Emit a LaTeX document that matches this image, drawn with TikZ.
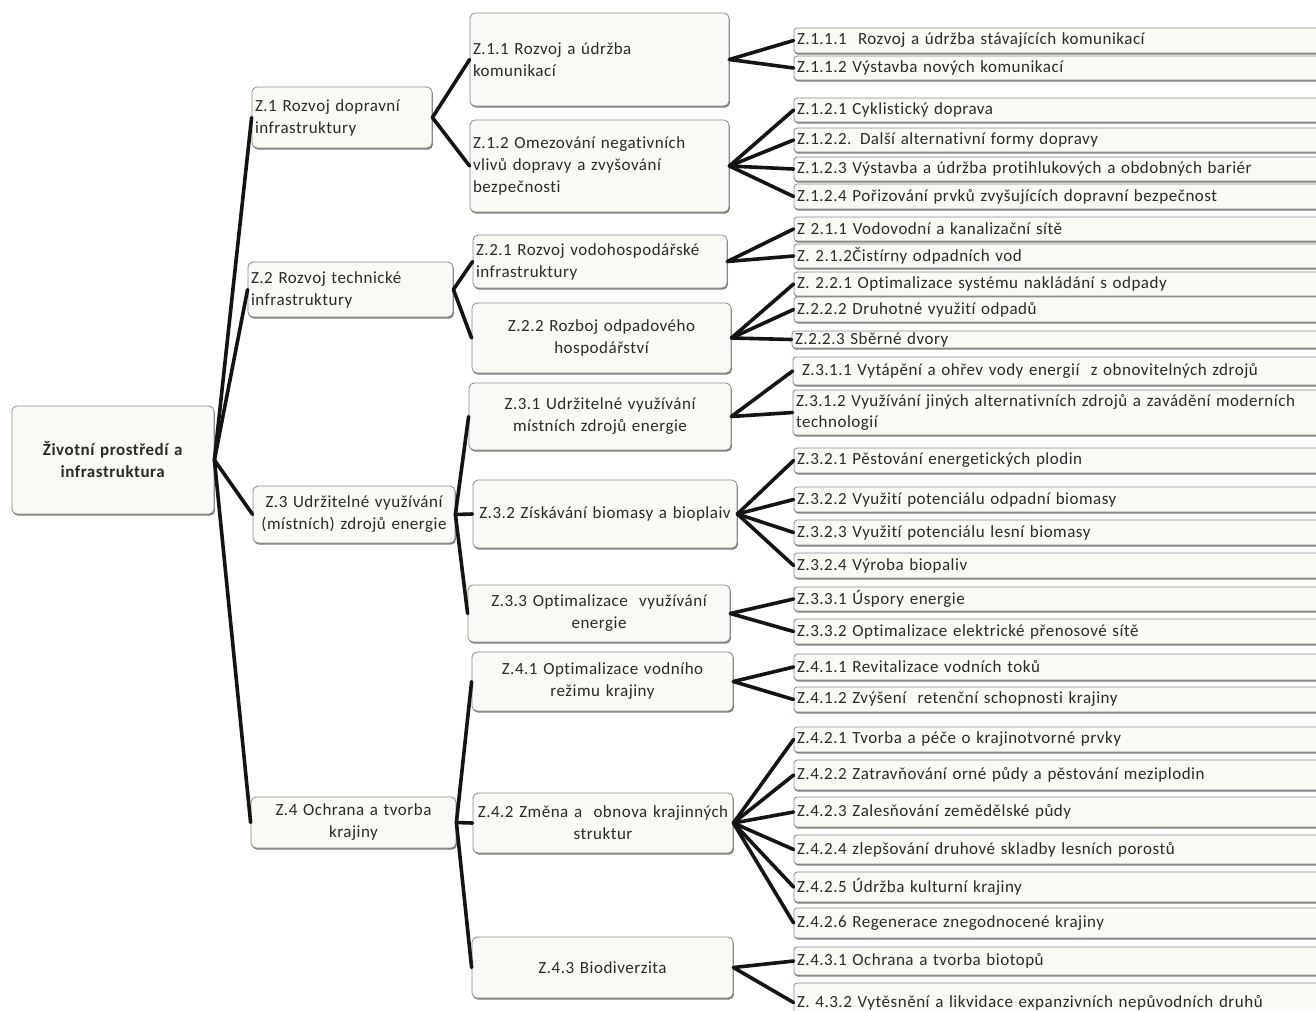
\documentclass[tikz,border=0pt]{standalone}
\usepackage{fontspec}
\setmainfont{Carlito}[LetterSpace=3,Ligatures=NoCommon]
\usetikzlibrary{shadows}
\definecolor{boxfill}{HTML}{FAF9F3}
\definecolor{boxline}{HTML}{8A8A86}
\definecolor{txt}{HTML}{2A2A2A}
\tikzset{
  box/.style={draw=boxline, line width=0.8pt, fill=boxfill, rounded corners=5pt,
    inner xsep=3pt, inner ysep=0pt, text=txt,
    font=\fontsize{17}{22}\selectfont,
    drop shadow={shadow xshift=0.9pt, shadow yshift=-1.6pt, fill=black!60, opacity=0.85}},
  leaf/.style={box, rounded corners=3pt, font=\fontsize{17}{21}\selectfont},
  conn/.style={line width=3.6pt, draw=black!92, line cap=round, line join=round}
}
% \mybox{name}{style}{x1}{y1}{x2}{y2}{align}{text}
\newcommand\mybox[8]{%
  \pgfmathsetmacro\cx{(#3+#5)/2}\pgfmathsetmacro\cy{(#4+#6)/2}%
  \pgfmathsetmacro\ww{#5-#3}\pgfmathsetmacro\hh{#6-#4}\pgfmathsetmacro\tw{#5-#3-6}%
  \node[#2, minimum width=\ww pt, minimum height=\hh pt, text width=\tw pt, align=#7] (#1) at (\cx,\cy) {#8};}
\newcommand\myleaf[4]{\mybox{#1}{leaf}{794}{#2}{1330}{#3}{left}{#4}}
\begin{document}
\begin{tikzpicture}[x=1pt,y=-1pt]
\useasboundingbox (0,0) rectangle (1316,1010);
% root
\mybox{root}{box}{12}{406}{214}{514}{center}{\textbf{Životní prostředí a}\\\textbf{infrastruktura}}
% level 1
\mybox{z1}{box}{252}{87}{432}{148}{left}{Z.1 Rozvoj dopravní\\infrastruktury}
\mybox{z2}{box}{248}{262}{453}{317}{left}{Z.2 Rozvoj technické\\infrastruktury}
\mybox{z3}{box}{253}{486}{455}{543}{center}{Z.3 Udržitelné využívání\\(místních) zdrojů energie}
\mybox{z4}{box}{251}{797}{456}{848}{center}{Z.4 Ochrana a tvorba\\krajiny}
% level 2
\mybox{z11}{box}{470}{13}{729}{106}{left}{Z.1.1 Rozvoj a údržba\\komunikací}
\mybox{z12}{box}{470}{120}{729}{212}{left}{Z.1.2 Omezování negativních\\vlivů dopravy a zvyšování\\bezpečnosti}
\mybox{z21}{box}{473}{235}{727}{288}{left}{Z.2.1 Rozvoj vodohospodářské\\infrastruktury}
\mybox{z22}{box}{472}{303}{731}{373}{center}{Z.2.2 Rozboj odpadového\\hospodářství}
\mybox{z31}{box}{469}{383}{731}{450}{center}{Z.3.1 Udržitelné využívání\\místních zdrojů energie}
\mybox{z32}{box}{473}{480}{737}{548}{center}{Z.3.2 Získávání biomasy a bioplaiv}
\mybox{z33}{box}{468}{585}{730}{642}{center}{Z.3.3 Optimalizace\ \ využívání\\energie}
\mybox{z41}{box}{472}{652}{733}{711}{center}{Z.4.1 Optimalizace vodního\\režimu krajiny}
\mybox{z42}{box}{473}{793}{733}{853}{center}{Z.4.2 Změna a\ \ obnova krajinných\\struktur}
\mybox{z43}{box}{472}{937}{733}{998}{center}{Z.4.3 Biodiverzita}
% leaves
\myleaf{z111}{28}{53}{Z.1.1.1\ \ Rozvoj a údržba stávajících komunikací}
\myleaf{z112}{56}{80}{Z.1.1.2 Výstavba nových komunikací}
\myleaf{z121}{98}{122}{Z.1.2.1 Cyklistický doprava}
\myleaf{z122}{128}{152}{Z.1.2.2. Další alternativní formy dopravy}
\myleaf{z123}{157}{181}{Z.1.2.3 Výstavba a údržba protihlukových a obdobných bariér}
\myleaf{z124}{184}{209}{Z.1.2.4 Pořizování prvků zvyšujících dopravní bezpečnost}
\myleaf{z211}{217}{241}{Z 2.1.1 Vodovodní a kanalizační sítě}
\myleaf{z212}{244}{268}{Z. 2.1.2Čistírny odpadních vod}
\myleaf{z221}{272}{296}{Z. 2.2.1 Optimalizace systému nakládání s odpady}
\myleaf{z222}{297}{322}{Z.2.2.2 Druhotné využití odpadů}
\mybox{z223}{leaf}{792}{331}{1330}{348}{left}{Z.2.2.3 Sběrné dvory}
\mybox{z311}{leaf}{793}{357}{1330}{385}{left}{\hspace{6pt}Z.3.1.1 Vytápění a ohřev vody energií\ \ z obnovitelných zdrojů}
\mybox{z312}{leaf}{793}{390}{1330}{435}{left}{Z.3.1.2 Využívání jiných alternativních zdrojů a zavádění moderních\\technologií}
\myleaf{z321}{448}{473}{Z.3.2.1 Pěstování energetických plodin}
\myleaf{z322}{487}{512}{Z.3.2.2 Využití potenciálu odpadní biomasy}
\myleaf{z323}{520}{545}{Z.3.2.3 Využití potenciálu lesní biomasy}
\myleaf{z324}{553}{578}{Z.3.2.4 Výroba biopaliv}
\myleaf{z331}{587}{611}{Z.3.3.1 Úspory energie}
\myleaf{z332}{619}{644}{Z.3.3.2 Optimalizace elektrické přenosové sítě}
\myleaf{z411}{654}{680}{Z.4.1.1 Revitalizace vodních toků}
\myleaf{z412}{687}{712}{Z.4.1.2 Zvýšení\ \ retenční schopnosti krajiny}
\myleaf{z421}{727}{752}{Z.4.2.1 Tvorba a péče o krajinotvorné prvky}
\myleaf{z422}{760}{790}{Z.4.2.2 Zatravňování orné půdy a pěstování meziplodin}
\myleaf{z423}{797}{827}{Z.4.2.3 Zalesňování zemědělské půdy}
\myleaf{z424}{835}{864}{Z.4.2.4 zlepšování druhové skladby lesních porostů}
\myleaf{z425}{872}{902}{Z.4.2.5 Údržba kulturní krajiny}
\myleaf{z426}{908}{938}{Z.4.2.6 Regenerace znegodnocené krajiny}
\myleaf{z431}{947}{975}{Z.4.3.1 Ochrana a tvorba biotopů}
\myleaf{z432}{983}{1022}{Z. 4.3.2 Vytěsnění a likvidace expanzivních nepůvodních druhů}
% connectors
\foreach \a/\b in {root/z1,root/z2,root/z3,root/z4,
  z1/z11,z1/z12,z2/z21,z2/z22,z3/z31,z3/z32,z3/z33,z4/z41,z4/z42,z4/z43,
  z11/z111,z11/z112,z12/z121,z12/z122,z12/z123,z12/z124,
  z21/z211,z21/z212,z22/z221,z22/z222,z22/z223,
  z31/z311,z31/z312,z32/z321,z32/z322,z32/z323,z32/z324,z33/z331,z33/z332,
  z41/z411,z41/z412,z42/z421,z42/z422,z42/z423,z42/z424,z42/z425,z42/z426,
  z43/z431,z43/z432}
  \draw[conn] (\a.east) -- (\b.west);
\end{tikzpicture}
\end{document}
